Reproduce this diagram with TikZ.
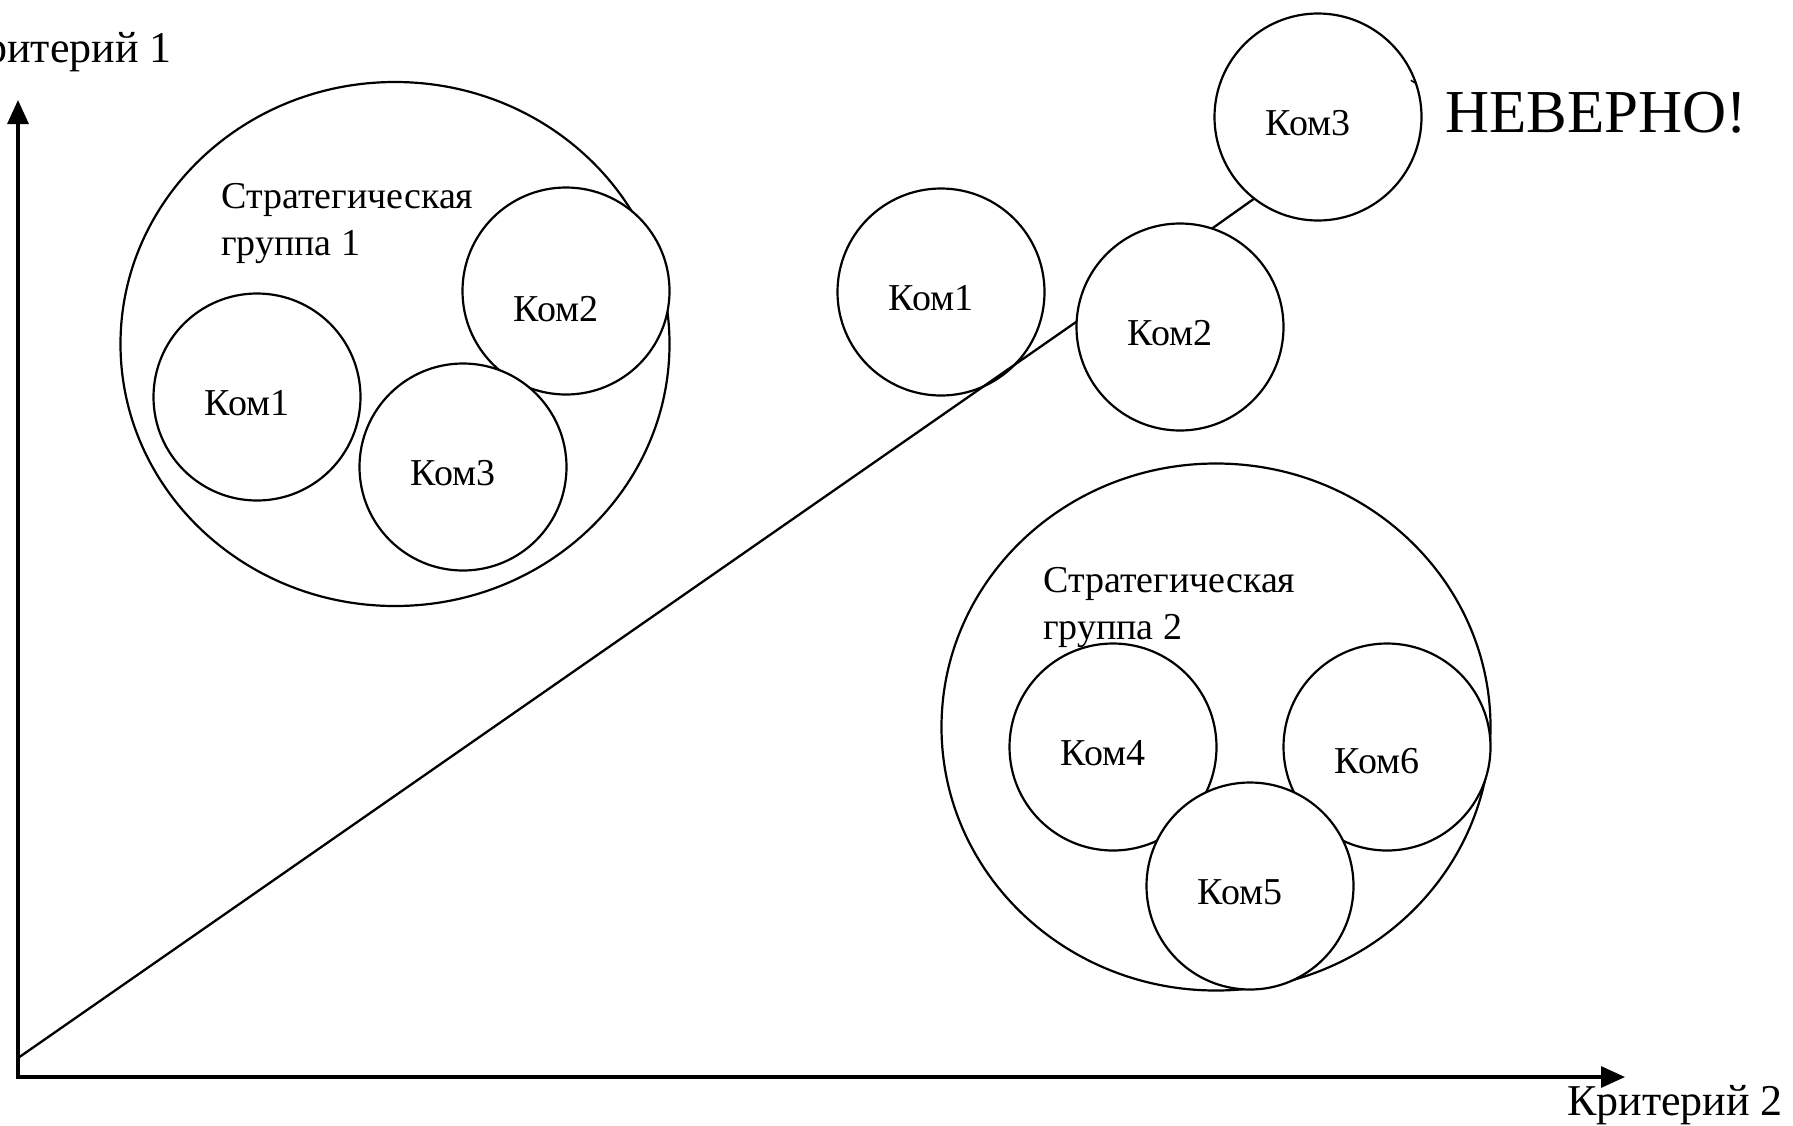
\documentclass[tikz,border=0pt]{standalone}
\usepackage{fontspec}
\setmainfont{Liberation Serif}
\usetikzlibrary{arrows.meta,shapes.geometric}

\begin{document}
\begin{tikzpicture}[x=1pt,y=-1pt,
  firm/.style={circle, draw, fill=white, line width=2.2pt, minimum size=207pt, inner sep=0pt, outer sep=0pt},
  group/.style={ellipse, draw, fill=white, line width=2.2pt, minimum width=549pt, minimum height=524pt, inner sep=0pt, outer sep=0pt},
  lbl/.style={font=\fontsize{38}{42}\selectfont, inner sep=0pt, xshift=-10pt, yshift=-6pt},
  grouptext/.style={font=\fontsize{38}{47}\selectfont, anchor=base west, inner sep=0pt},
  axis/.style={line width=3.2pt, line join=miter, {Triangle[length=24pt,width=21pt]}-{Triangle[length=24pt,width=21pt]}},
  link/.style={line width=2.3pt},
  axislabel/.style={font=\fontsize{44}{50}\selectfont, inner sep=0pt}
]
\useasboundingbox (0,0) rectangle (1793,1125);

% axes
\coordinate (corner) at (18,1077);
\coordinate (ytip) at (18,100);
\coordinate (xtip) at (1625,1077);
\draw[axis] (ytip) -- (corner) -- (xtip);
\node[axislabel, anchor=base east] (crit1) at (172,62) {Критерий 1};
\node[axislabel, anchor=base west] (crit2) at (1567,1115) {Критерий 2};

% strategic group 1
\node[group] (g1) at (395,344) {};
\node[grouptext] (g1t) at (221,208) {\vtop{\baselineskip=47pt\hbox{Стратегическая}\hbox{группа 1}}};
\node[firm, label={[lbl]center:Ком1}] (g1k1) at (257,397) {};
\node[firm, label={[lbl,yshift=-12pt]center:Ком2}] (g1k2) at (566,291) {};
\node[firm, label={[lbl]center:Ком3}] (g1k3) at (463,467) {};

% firms along the diagonal
\node[firm, label={[lbl]center:Ком1}] (m1) at (941,292) {};
\node[firm, label={[lbl]center:Ком2}] (m2) at (1180,327) {};
\node[firm, label={[lbl]center:Ком3}] (m3) at (1318,117) {};
\coordinate (origin) at (18,1058);
\draw[link] (origin) -- (m2.177);
\draw[link] (m2.72) -- (m3.232);
\draw[line width=1.5pt] (m3.19) -- ++(-5,-3);
\node[font=\fontsize{61}{70}\selectfont, anchor=base west, inner sep=0pt] (wrong) at (1445,132) {НЕВЕРНО!};

% strategic group 2
\node[group, minimum height=527pt] (g2) at (1216,727) {};
\node[grouptext] (g2t) at (1043,592) {\vtop{\baselineskip=47pt\hbox{Стратегическая}\hbox{группа 2}}};
\node[firm, label={[lbl]center:Ком4}] (g2k4) at (1113,747) {};
\node[firm, label={[lbl,yshift=-8pt]center:Ком6}] (g2k6) at (1387,747) {};
\node[firm, label={[lbl]center:Ком5}] (g2k5) at (1250,886) {};
\end{tikzpicture}
\end{document}
